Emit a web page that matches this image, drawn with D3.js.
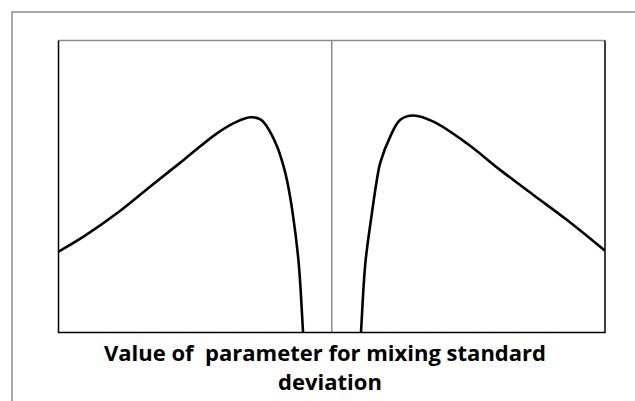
<!DOCTYPE html>
<html>
<head>
<meta charset="utf-8">
<script src="https://cdn.jsdelivr.net/npm/d3@7/dist/d3.min.js"></script>
<style>
  html, body { margin: 0; padding: 0; background: #fff; }
  svg { display: block; }
</style>
</head>
<body>
<div id="chart"></div>
<script>
// values (x: -1..1, y: 0..1, arbitrary units)
var leftX  = [-1.0, -0.907, -0.785, -0.664, -0.542, -0.420, -0.347, -0.298, -0.261, -0.237, -0.200, -0.176, -0.164, -0.143, -0.121, -0.105, -0.101];
var leftY  = [0.277, 0.329, 0.409, 0.500, 0.591, 0.682, 0.722, 0.737, 0.730, 0.705, 0.637, 0.568, 0.522, 0.409, 0.238, 0.0, -0.06];
var rightX = [0.103, 0.107, 0.123, 0.147, 0.165, 0.177, 0.214, 0.250, 0.299, 0.372, 0.494, 0.616, 0.738, 0.860, 1.0];
var rightY = [-0.06, 0.0, 0.238, 0.409, 0.522, 0.580, 0.671, 0.728, 0.743, 0.722, 0.648, 0.557, 0.471, 0.386, 0.280];
var titleLines = ['Value of  parameter for mixing standard', 'deviation'];

(function () {
  'use strict';

  var width = 635, height = 401;
  var plot = { left: 58.5, top: 40.5, right: 605, bottom: 332.5 };

  var svg = d3.select('#chart').append('svg')
    .attr('width', width)
    .attr('height', height);

  //----- outer frame (runs off the right and bottom edges)
  svg.append('rect')
    .attr('x', 12).attr('y', 12)
    .attr('width', width).attr('height', height)
    .attr('fill', 'none')
    .attr('stroke', '#8c8c8c')
    .attr('stroke-width', 1.5);

  var x = d3.scaleLinear().domain([-1, 1]).range([plot.left, plot.right]);
  var y = d3.scaleLinear().domain([0, 1]).range([plot.bottom, plot.top]);

  svg.append('clipPath').attr('id', 'plotClip')
    .append('rect')
    .attr('x', plot.left).attr('y', plot.top)
    .attr('width', plot.right - plot.left)
    .attr('height', plot.bottom - plot.top);

  //----- centre line at x = 0
  svg.append('line')
    .attr('x1', x(0)).attr('x2', x(0))
    .attr('y1', plot.top).attr('y2', plot.bottom)
    .attr('stroke', '#8c8c8c')
    .attr('stroke-width', 1.5);

  var line = d3.line()
    .x(function (d) { return x(d[0]); })
    .y(function (d) { return y(d[1]); })
    .curve(d3.curveCatmullRom.alpha(0.5));

  var branches = [d3.zip(leftX, leftY), d3.zip(rightX, rightY)];

  svg.append('g').attr('clip-path', 'url(#plotClip)')
    .selectAll('path.branch')
    .data(branches).enter()
    .append('path')
    .attr('class', 'branch')
    .attr('d', line)
    .attr('fill', 'none')
    .attr('stroke', '#000')
    .attr('stroke-width', 2.6)
    .attr('stroke-linejoin', 'round');

  //----- plot border: grey top, black sides and bottom
  svg.append('line')
    .attr('x1', plot.left).attr('x2', plot.right)
    .attr('y1', plot.top).attr('y2', plot.top)
    .attr('stroke', '#8c8c8c').attr('stroke-width', 1.5);
  svg.append('path')
    .attr('d', 'M' + plot.left + ',' + plot.top + 'V' + plot.bottom + 'H' + plot.right + 'V' + plot.top)
    .attr('fill', 'none')
    .attr('stroke', '#000')
    .attr('stroke-width', 1.5);

  //----- title under the plot
  svg.selectAll('text.title')
    .data(titleLines).enter()
    .append('text')
    .attr('class', 'title')
    .attr('x', function (d, i) { return i ? 330 : 325; })
    .attr('y', function (d, i) { return 361 + i * 29; })
    .attr('text-anchor', 'middle')
    .style('font-family', '"Open Sans", sans-serif')
    .style('font-weight', 700)
    .style('font-size', '22px')
    .style('white-space', 'pre')
    .text(function (d) { return d; });
})();
</script>
</body>
</html>
